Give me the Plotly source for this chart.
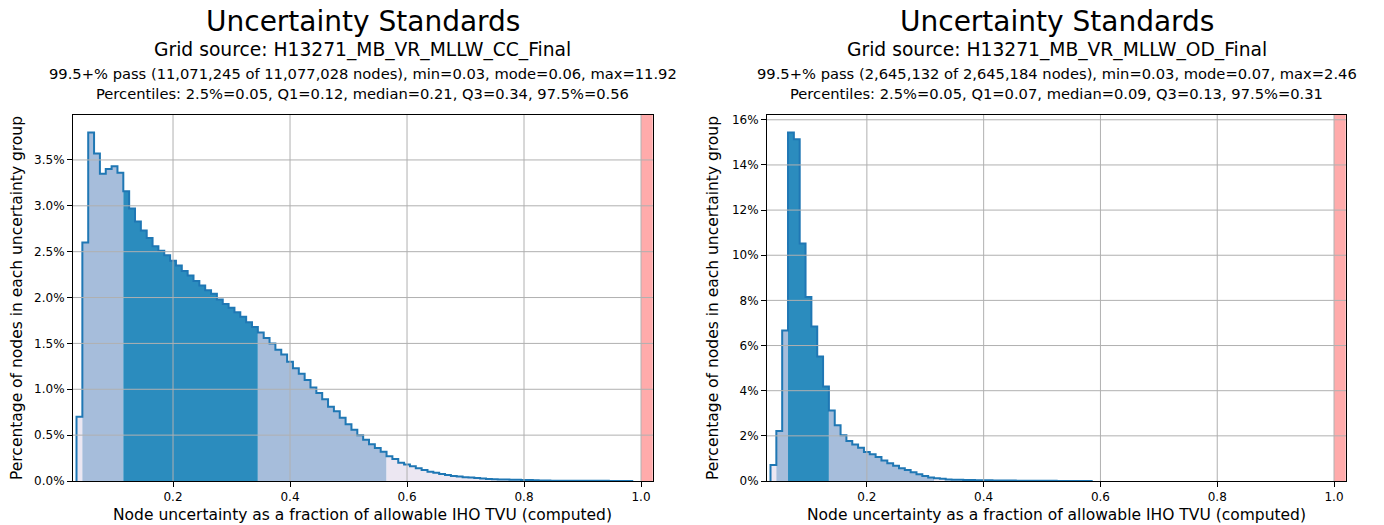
import plotly.graph_objects as go

# ---- data -------------------------------------------------------------
BIN_START = 0.035
BIN_WIDTH = 0.01

# percentage of nodes per 0.01-wide uncertainty bin
cc_pct = [0.70, 2.60, 3.80, 3.57, 3.35, 3.40, 3.43, 3.36,
          3.16, 2.97, 2.83, 2.73, 2.65, 2.56, 2.51, 2.46, 2.40, 2.35, 2.29, 2.24,
          2.18, 2.13, 2.08, 2.04, 1.98, 1.93, 1.89, 1.84, 1.79, 1.73, 1.68,
          1.62, 1.56, 1.50, 1.43, 1.38, 1.30, 1.23, 1.17, 1.10, 1.02, 0.96,
          0.89, 0.81, 0.76, 0.69, 0.62, 0.56, 0.50, 0.45, 0.40, 0.36, 0.32,
          0.27, 0.24, 0.20, 0.18, 0.16, 0.14, 0.12, 0.10, 0.09, 0.075, 0.065,
          0.055, 0.048,
          0.042, 0.037, 0.032, 0.027, 0.022, 0.020, 0.016, 0.015, 0.014, 0.013,
          0.012, 0.011,
          0.008, 0.006, 0.005, 0.004, 0.004, 0.003, 0.003, 0.003, 0.002, 0.002,
          0.002, 0.002, 0.002, 0.001, 0.001, 0.001, 0.001]

od_pct = [0.71, 2.22, 6.67,
          15.44, 15.14, 10.52, 8.15, 6.84, 5.51, 4.19,
          3.12, 2.47, 2.03, 1.77, 1.62, 1.47, 1.29, 1.19, 1.06, 0.91, 0.79,
          0.67, 0.57, 0.49, 0.39, 0.30, 0.22, 0.16,
          0.12, 0.10, 0.07, 0.06, 0.05, 0.045, 0.04, 0.035, 0.03, 0.028,
          0.025, 0.022, 0.02, 0.018, 0.015, 0.013, 0.011, 0.01, 0.008, 0.007,
          0.006, 0.005, 0.004, 0.003, 0.002, 0.002, 0.001]

# percentiles: 2.5%, Q1, median, Q3, 97.5%
cc_percentiles = [0.05, 0.12, 0.21, 0.34, 0.56]
od_percentiles = [0.05, 0.07, 0.09, 0.13, 0.31]

grid_names = ["H13271_MB_VR_MLLW_CC_Final", "H13271_MB_VR_MLLW_OD_Final"]
pass_lines = [
    "99.5+% pass (11,071,245 of 11,077,028 nodes), min=0.03, mode=0.06, max=11.92",
    "99.5+% pass (2,645,132 of 2,645,184 nodes), min=0.03, mode=0.07, max=2.46",
]

x_ticks = [0.2, 0.4, 0.6, 0.8, 1.0]
cc_y_ticks = [0.0, 0.5, 1.0, 1.5, 2.0, 2.5, 3.0, 3.5]
od_y_ticks = [0, 2, 4, 6, 8, 10, 12, 14, 16]

TVU_LIMIT = 1.0

# ---- styling ----------------------------------------------------------
C_OUTER = "#ece7f2"
C_MID = "#a6bddb"
C_INNER = "#2b8cbe"
C_LINE = "#1f77b4"
C_GRID = "#b0b0b0"
FONT = "DejaVu Sans"

W, H = 1384, 525
X_RANGE = [0.029, 1.0205]
panels = [
    dict(pct=cc_pct, perc=cc_percentiles, yticks=cc_y_ticks, ydec=1,
         ymax=max(cc_pct) * 1.05, xdom=[73 / W, 653 / W]),
    dict(pct=od_pct, perc=od_percentiles, yticks=od_y_ticks, ydec=0,
         ymax=max(od_pct) * 1.05, xdom=[767 / W, 1346 / W]),
]
Y_DOM = [(H - 481) / H, (H - 115) / H]


def band_of(center, perc):
    p025, q1, _, q3, p975 = perc
    c = round(center, 4)
    if c < p025 or c > p975:
        return C_OUTER
    if q1 <= c <= q3:
        return C_INNER
    return C_MID


fig = go.Figure()
shapes = []
annotations = []

for i, p in enumerate(panels):
    xa = "x" if i == 0 else "x2"
    ya = "y" if i == 0 else "y2"
    pct = p["pct"]
    n = len(pct)
    edges = [BIN_START + BIN_WIDTH * k for k in range(n + 1)]
    centers = [BIN_START + BIN_WIDTH * (k + 0.5) for k in range(n)]
    colors = [band_of(c, p["perc"]) for c in centers]

    # filled percentile bands, one trace per contiguous run of bins
    start = 0
    for k in range(1, n + 1):
        if k == n or colors[k] != colors[start]:
            xs = edges[start:k + 1]
            ys = pct[start:k] + [pct[k - 1]]
            fig.add_trace(go.Scatter(
                x=xs, y=ys, xaxis=xa, yaxis=ya, mode="lines",
                line=dict(width=0, shape="hv"), fill="tozeroy",
                fillcolor=colors[start], hoverinfo="skip", showlegend=False))
            start = k

    # step outline of the histogram
    fig.add_trace(go.Scatter(
        x=[edges[0]] + edges + [edges[-1]],
        y=[0] + pct + [pct[-1], 0],
        xaxis=xa, yaxis=ya, mode="lines",
        line=dict(color=C_LINE, width=2, shape="hv"),
        hoverinfo="skip", showlegend=False))

    # region beyond the allowable TVU
    shapes.append(dict(type="rect", xref=xa, yref=f"{ya} domain",
                       x0=TVU_LIMIT, x1=TVU_LIMIT + 0.02, y0=0, y1=1,
                       fillcolor="rgba(255,0,0,0.33)", line=dict(width=0),
                       layer="below"))
    # grid drawn over the fills
    for t in x_ticks:
        shapes.append(dict(type="line", xref=xa, yref=f"{ya} domain",
                           x0=t, x1=t, y0=0, y1=1,
                           line=dict(color=C_GRID, width=1), layer="above"))
    for t in p["yticks"][1:]:
        shapes.append(dict(type="line", xref=f"{xa} domain", yref=ya,
                           x0=0, x1=1, y0=t, y1=t,
                           line=dict(color=C_GRID, width=1), layer="above"))

    axis_common = dict(showline=True, linecolor="black", linewidth=1,
                       mirror=True, ticks="outside", ticklen=5, tickwidth=1,
                       tickcolor="black", showgrid=False, zeroline=False,
                       automargin=False,
                       tickfont=dict(family=FONT, size=12, color="black"))
    ytext = [f"{v:.{p['ydec']}f}%" for v in p["yticks"]]
    fig.update_layout(**{
        ("xaxis" if i == 0 else "xaxis2"): dict(
            domain=p["xdom"], anchor=ya, range=X_RANGE,
            tickvals=x_ticks, ticktext=[f"{v:.1f}" for v in x_ticks],
            **axis_common),
        ("yaxis" if i == 0 else "yaxis2"): dict(
            domain=Y_DOM, anchor=xa, range=[0, p["ymax"]],
            tickvals=p["yticks"], ticktext=ytext, **axis_common),
    })

    cx = (p["xdom"][0] + p["xdom"][1]) / 2
    pc = p["perc"]
    title_lines = [
        ("Uncertainty Standards", 28, 22),
        (f"Grid source: {grid_names[i]}", 18.7, 50),
        (pass_lines[i], 14.7, 73),
        (f"Percentiles: 2.5%={pc[0]:.2f}, Q1={pc[1]:.2f}, median={pc[2]:.2f}, "
         f"Q3={pc[3]:.2f}, 97.5%={pc[4]:.2f}", 14.7, 93),
    ]
    for text, size, py in title_lines:
        annotations.append(dict(text=text, xref="paper", yref="paper",
                                x=cx, y=1 - py / H, xanchor="center",
                                yanchor="middle", showarrow=False,
                                font=dict(family=FONT, size=size, color="black")))
    annotations.append(dict(
        text="Node uncertainty as a fraction of allowable IHO TVU (computed)",
        xref="paper", yref="paper", x=cx, y=0, xanchor="center",
        yanchor="bottom", showarrow=False, borderpad=0,
        font=dict(family=FONT, size=15.5, color="black")))
    annotations.append(dict(
        text="Percentage of nodes in each uncertainty group",
        xref="paper", yref="paper",
        x=(17 if i == 0 else 713) / W, y=(Y_DOM[0] + Y_DOM[1]) / 2,
        xanchor="center", yanchor="middle", textangle=-90, showarrow=False,
        font=dict(family=FONT, size=15.5, color="black")))

fig.update_layout(width=W, height=H, margin=dict(l=0, r=0, t=0, b=0, pad=0),
                  paper_bgcolor="white", plot_bgcolor="white",
                  shapes=shapes, annotations=annotations, showlegend=False)

# page without default body margins so the figure fills the window exactly
fig.write_html("out.html",
               post_script="document.body.style.margin='0';"
                           "document.body.style.overflow='hidden';")
